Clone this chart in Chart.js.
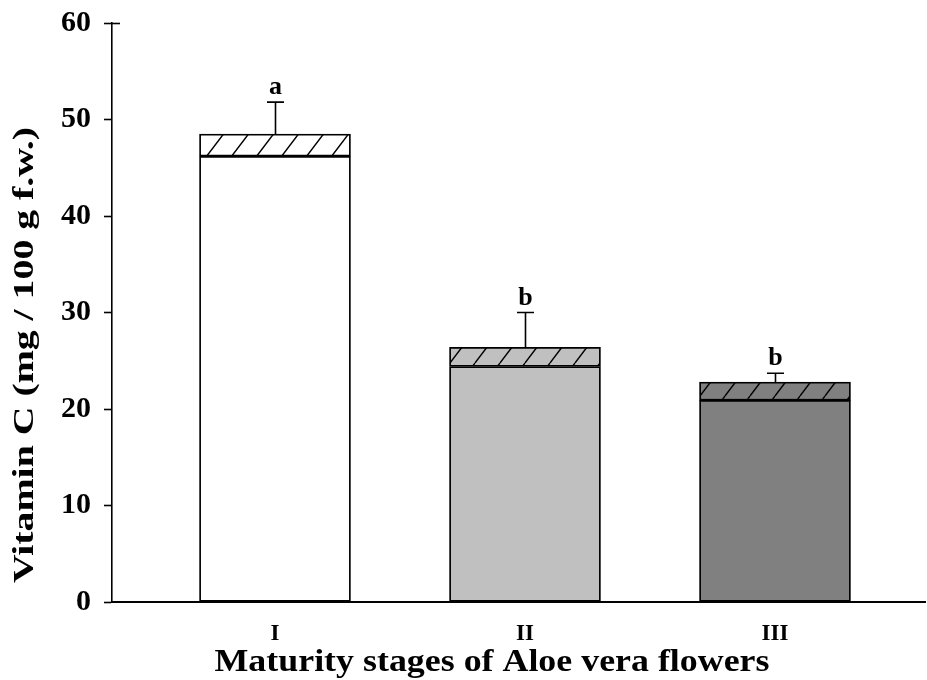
<!DOCTYPE html>
<html>
<head>
<meta charset="utf-8">
<script src="https://cdn.jsdelivr.net/npm/chart.js@4.4.1/dist/chart.umd.min.js"></script>
<style>
  html, body { margin: 0; padding: 0; background: #ffffff; }
  #wrap { width: 927px; height: 680px; position: relative; }
</style>
</head>
<body>
<div id="wrap"><canvas id="c" width="927" height="680"></canvas></div>
<script>
// ---- Data ----
const categories = ['I', 'II', 'III'];
const baseValues = [46.2, 24.4, 20.9];      // solid part of each bar
const totalValues = [48.5, 26.4, 22.8];     // top of hatched part
const errorTops = [51.8, 30.0, 23.7];       // top of error whisker
const letters = ['a', 'b', 'b'];
const yTicks = [0, 10, 20, 30, 40, 50, 60];
const barColors = ['#ffffff', '#c0c0c0', '#808080'];
const xTitle = 'Maturity stages of Aloe vera flowers';
const yTitle = 'Vitamin C (mg / 100 g f.w.)';

const FONT = '"Liberation Serif", "Times New Roman", serif';

function hatch(bg) {
  const w = 25, h = 33;
  const c = document.createElement('canvas');
  c.width = w; c.height = h;
  const g = c.getContext('2d');
  g.fillStyle = bg; g.fillRect(0, 0, w, h);
  g.strokeStyle = '#000'; g.lineWidth = 1.4;
  g.beginPath();
  for (const off of [-w, 0, w]) {
    g.moveTo(off, h); g.lineTo(off + w, 0);
  }
  g.stroke();
  return document.getElementById('c').getContext('2d').createPattern(c, 'repeat');
}

const xPos = categories.map((_, i) => i + 1);
const hatchValues = totalValues.map((t, i) => +(t - baseValues[i]).toFixed(2));

function fitText(ctx, text, cx, cy, size, targetWidth, rotate) {
  ctx.save();
  ctx.font = 'bold ' + size + 'px ' + FONT;
  const w = ctx.measureText(text).width;
  ctx.translate(cx, cy);
  if (rotate) ctx.rotate(-Math.PI / 2);
  ctx.scale(targetWidth / w, 1);
  ctx.textAlign = 'center'; ctx.textBaseline = 'alphabetic';
  ctx.fillStyle = '#000';
  ctx.fillText(text, 0, 0);
  ctx.restore();
}

const extras = {
  id: 'extras',
  afterDatasetsDraw(chart) {
    const ctx = chart.ctx, xs = chart.scales.x, ys = chart.scales.y;
    ctx.save();
    ctx.strokeStyle = '#000'; ctx.lineWidth = 1.6;
    categories.forEach((_, i) => {
      const x = Math.round(xs.getPixelForValue(xPos[i])) + 0.5;
      const y1 = ys.getPixelForValue(totalValues[i]);
      const y2 = ys.getPixelForValue(errorTops[i]);
      ctx.beginPath();
      ctx.moveTo(x, y1); ctx.lineTo(x, y2);
      ctx.moveTo(x - 8.5, y2); ctx.lineTo(x + 8.5, y2);
      ctx.stroke();
      ctx.fillStyle = '#000';
      ctx.font = 'bold 26px ' + FONT;
      ctx.textAlign = 'center'; ctx.textBaseline = 'alphabetic';
      ctx.fillText(letters[i], x, y2 - 8);
    });
    // short top tick extension at the axis top
    const yt = Math.round(ys.getPixelForValue(yTicks[yTicks.length - 1])) + 0.5;
    ctx.beginPath();
    ctx.moveTo(xs.left, yt); ctx.lineTo(xs.left + 8, yt);
    ctx.stroke();
    // axis titles
    fitText(ctx, yTitle, 33, 355, 30, 456, true);
    fitText(ctx, xTitle, 492, 671, 32, 555, false);
    ctx.restore();
  }
};

new Chart(document.getElementById('c'), {
  type: 'bar',
  data: {
    datasets: [
      {
        data: xPos.map((x, i) => ({ x, y: baseValues[i] })),
        backgroundColor: barColors,
        borderColor: '#000', borderWidth: 1.8, borderSkipped: false,
        barThickness: 151
      },
      {
        data: xPos.map((x, i) => ({ x, y: hatchValues[i] })),
        backgroundColor: barColors.map(hatch),
        borderColor: '#000', borderWidth: 1.8, borderSkipped: false,
        barThickness: 151
      }
    ]
  },
  options: {
    responsive: false,
    animation: false,
    layout: { padding: { left: 0, top: 23, right: 2, bottom: 0 } },
    plugins: { legend: { display: false }, tooltip: { enabled: false } },
    scales: {
      x: {
        type: 'linear', stacked: true, offset: false,
        min: 0.348, max: 3.6,
        afterBuildTicks(s) { s.ticks = xPos.map(v => ({ value: v })); },
        afterFit(s) { s.height = 78; s.paddingLeft = 0; s.paddingRight = 0; },
        grid: { display: false },
        border: { display: true, color: '#000', width: 2 },
        ticks: {
          color: '#000', padding: 10, maxRotation: 0,
          font: { family: FONT, size: 23, weight: 'bold' },
          callback: (v) => categories[xPos.indexOf(v)] ?? ''
        }
      },
      y: {
        stacked: true, min: 0, max: 60,
        afterBuildTicks(s) { s.ticks = yTicks.map(v => ({ value: v })); },
        afterFit(s) { s.width = 112; s.paddingTop = 0; s.paddingBottom = 0; },
        grid: { drawOnChartArea: false, drawTicks: true, tickLength: 8, tickColor: '#000', tickWidth: 1.6 },
        border: { display: true, color: '#000', width: 1.6 },
        ticks: { color: '#000', padding: 13, font: { family: FONT, size: 30, weight: 'bold' } }
      }
    }
  },
  plugins: [extras]
});
</script>
</body>
</html>
